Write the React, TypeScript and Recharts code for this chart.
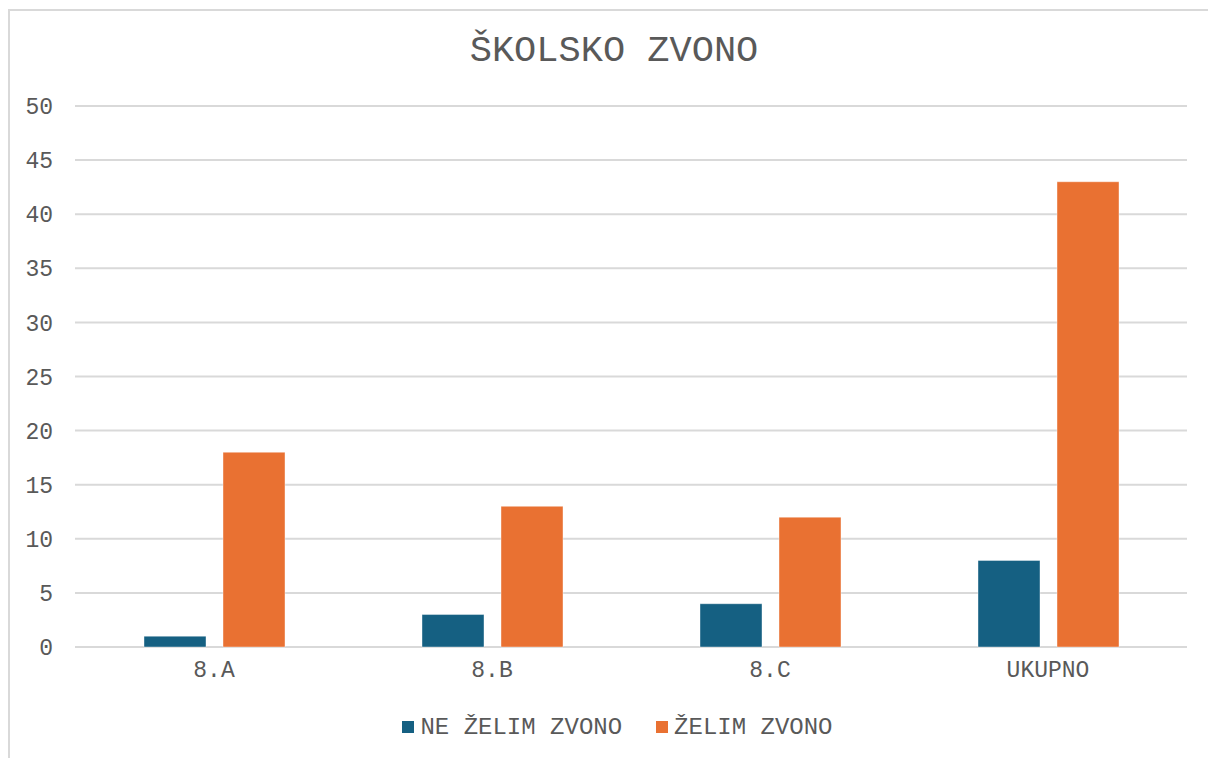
import { BarChart, Bar, XAxis, YAxis, CartesianGrid, Legend } from 'recharts'

const categories = ['8.A', '8.B', '8.C', 'UKUPNO']
const neZelim = [1, 3, 4, 8]
const zelim = [18, 13, 12, 43]
const yTicks = [0, 5, 10, 15, 20, 25, 30, 35, 40, 45, 50]

const seriesNames = { ne: 'NE ŽELIM ZVONO', da: 'ŽELIM ZVONO' }
const colors = { ne: '#156082', da: '#E97132' }

const font = '"Courier New", "Nimbus Mono PS", "FreeMono", "Liberation Mono", monospace'
const textColor = '#595959'
const gridColor = '#d9d9d9'

const data = categories.map((name, i) => ({
  name,
  ne: neZelim[i],
  da: zelim[i],
}))

function LegendContent() {
  const items = [
    { key: 'ne', label: seriesNames.ne, color: colors.ne },
    { key: 'da', label: seriesNames.da, color: colors.da },
  ]
  return (
    <div
      style={{
        height: 40,
        display: 'flex',
        alignItems: 'center',
        justifyContent: 'center',
        gap: 34,
        paddingLeft: 48,
        fontFamily: font,
        fontSize: 24,
        color: textColor,
      }}
    >
      {items.map(it => (
        <div key={it.key} style={{ display: 'flex', alignItems: 'center' }}>
          <span style={{ width: 12, height: 12, background: it.color, marginRight: 6, display: 'inline-block' }} />
          <span>{it.label}</span>
        </div>
      ))}
    </div>
  )
}

export default function App() {
  return (
    <div style={{ position: 'fixed', left: 0, top: 0, width: 1208, height: 758, background: '#fff', overflow: 'hidden' }}>
      <div
        style={{
          position: 'absolute',
          left: 8,
          top: 9,
          width: 1300,
          height: 800,
          borderLeft: `2px solid ${gridColor}`,
          borderTop: `2px solid ${gridColor}`,
          boxSizing: 'border-box',
        }}
      />
      <div
        style={{
          position: 'absolute',
          left: 0,
          top: 29,
          width: 1228,
          textAlign: 'center',
          fontFamily: font,
          fontSize: 37,
          color: textColor,
          lineHeight: '44px',
        }}
      >
        ŠKOLSKO ZVONO
      </div>
      <div style={{ position: 'absolute', left: 0, top: 0 }}>
        <BarChart
          width={1208}
          height={758}
          data={data}
          margin={{ top: 106, right: 21, bottom: 11, left: 0 }}
          barSize={62}
          barGap={17}
        >
          <CartesianGrid vertical={false} stroke={gridColor} strokeWidth={2} />
          <XAxis
            dataKey="name"
            height={60}
            axisLine={false}
            tickLine={false}
            tickSize={0}
            tickMargin={14}
            tick={{ fill: textColor, fontFamily: font, fontSize: 23 }}
          />
          <YAxis
            width={75}
            domain={[0, 50]}
            ticks={yTicks}
            interval={0}
            axisLine={false}
            tickLine={false}
            tickSize={0}
            tickMargin={22}
            tick={{ fill: textColor, fontFamily: font, fontSize: 23 }}
          />
          <Legend verticalAlign="bottom" content={<LegendContent />} wrapperStyle={{ height: 40 }} />
          <Bar dataKey="ne" name={seriesNames.ne} fill={colors.ne} stroke="#ffffff" strokeOpacity={0.4} strokeWidth={1} isAnimationActive={false} />
          <Bar dataKey="da" name={seriesNames.da} fill={colors.da} stroke="#ffffff" strokeOpacity={0.4} strokeWidth={1} isAnimationActive={false} />
        </BarChart>
      </div>
    </div>
  )
}
